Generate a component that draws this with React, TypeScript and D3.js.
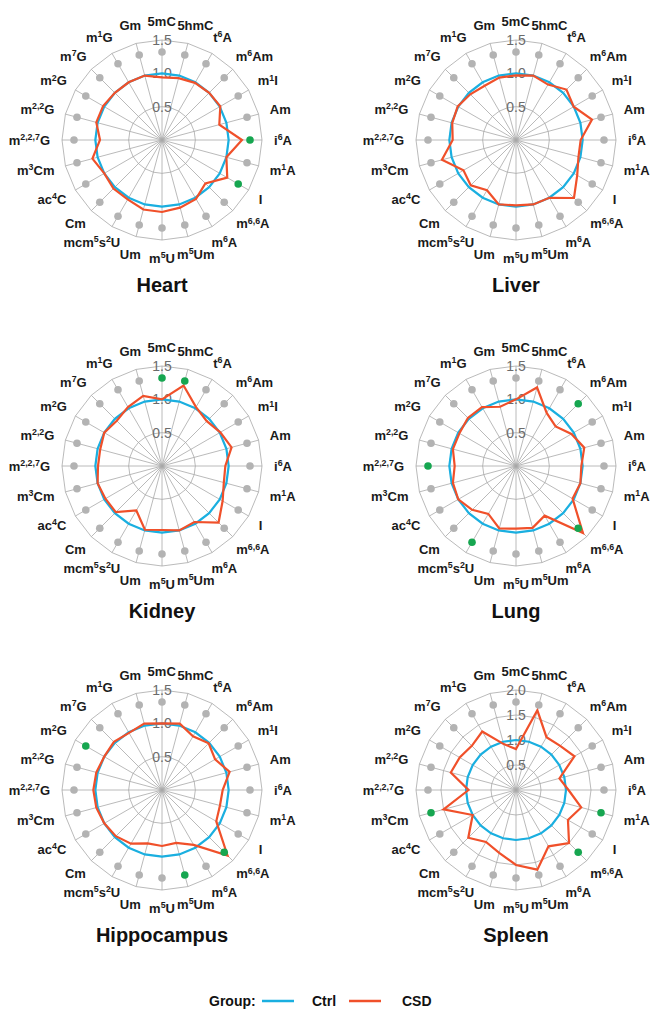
import React, { useEffect, useRef } from "react";
import * as d3 from "d3";

// modification labels, clockwise from top; "^" toggles superscript
const mods = ["5mC", "5hmC", "t^6^A", "m^6^Am", "m^1^I", "Am", "i^6^A", "m^1^A", "I", "m^6,6^A", "m^6^A", "m^5^Um",
  "m^5^U", "Um", "mcm^5^s^2^U", "Cm", "ac^4^C", "m^3^Cm", "m^2,2,7^G", "m^2,2^G", "m^2^G", "m^7^G", "m^1^G", "Gm"];

const tissues = ["Heart", "Liver", "Kidney", "Lung", "Hippocampus", "Spleen"];

const ctrl = [1, 1, 1, 1, 1, 1, 1, 1, 1, 1, 1, 1, 1, 1, 1, 1, 1, 1, 1, 1, 1, 1, 1, 1];

const heartCSD = [0.94, 0.96, 0.99, 1.0, 1.01, 0.89, 1.2, 1.0, 1.13, 0.92, 1.02, 1.05, 1.08, 1.08, 1.03, 1.03, 1.0, 1.08, 0.93, 1.02, 1.02, 1.0, 1.0, 1.0];
const liverCSD = [0.97, 1.0, 0.96, 1.07, 1.0, 1.18, 0.97, 0.97, 1.06, 1.23, 1.0, 1.0, 0.98, 1.0, 0.87, 0.96, 0.91, 1.15, 0.95, 0.99, 1.01, 0.97, 0.94, 0.97];
const kidneyCSD = [1.0, 1.25, 1.02, 0.95, 1.01, 1.08, 0.95, 0.96, 1.05, 1.2, 0.97, 1.0, 0.96, 0.99, 0.77, 0.98, 0.98, 1.0, 0.96, 0.96, 1.0, 0.96, 1.02, 1.09];
const lungCSD = [1.0, 1.22, 0.92, 0.84, 0.96, 1.06, 0.98, 1.0, 0.98, 1.42, 0.86, 0.96, 0.94, 0.97, 0.83, 0.93, 1.0, 0.98, 0.92, 0.98, 0.98, 1.02, 1.02, 0.92];
const hippoCSD = [1.0, 1.03, 0.93, 0.99, 0.92, 1.05, 0.91, 0.9, 0.94, 1.39, 0.95, 0.82, 0.84, 0.83, 0.93, 0.98, 1.0, 1.02, 1.03, 1.02, 1.0, 1.02, 0.99, 1.03];
const spleenCSD = [0.82, 1.65, 1.22, 1.25, 1.35, 0.9, 1.05, 1.35, 1.2, 1.5, 1.3, 1.65, 1.5, 1.3, 1.2, 1.35, 1.0, 1.5, 0.95, 1.35, 1.3, 1.25, 1.35, 0.95];

const heartSig = ["i^6^A", "I"];
const liverSig: string[] = [];
const kidneySig = ["5mC", "5hmC"];
const lungSig = ["m^6^Am", "m^2,2,7^G", "mcm^5^s^2^U", "m^6,6^A"];
const hippoSig = ["m^2^G", "m^6,6^A", "m^5^Um"];
const spleenSig = ["m^3^Cm", "m^1^A", "m^6,6^A"];

const ticks15 = [0.5, 1.0, 1.5];
const ticks20 = [0.5, 1.0, 1.5, 2.0];

const panels = [
  { name: tissues[0], csd: heartCSD, sig: heartSig, ticks: ticks15 },
  { name: tissues[1], csd: liverCSD, sig: liverSig, ticks: ticks15 },
  { name: tissues[2], csd: kidneyCSD, sig: kidneySig, ticks: ticks15 },
  { name: tissues[3], csd: lungCSD, sig: lungSig, ticks: ticks15 },
  { name: tissues[4], csd: hippoCSD, sig: hippoSig, ticks: ticks15 },
  { name: tissues[5], csd: spleenCSD, sig: spleenSig, ticks: ticks20 },
];

const W = 653, H = 1009;
const R = 100;
const BLUE = "#1AAFE0";
const RED = "#F0502A";
const GREEN = "#16A650";
const GREY = "#B3B3B3";
const GRID = "#A8A8A8";
const FONT = "'Liberation Sans', Arial, sans-serif";

function addLabel(sel: any, label: string, fs: number) {
  const parts = label.split("^");
  parts.forEach((p, i) => {
    if (!p) return;
    const sup = i % 2 === 1;
    const t = sel.append("tspan").text(p);
    if (sup) t.attr("font-size", fs * 0.68).attr("dy", -fs * 0.38);
    else if (i > 0) t.attr("dy", fs * 0.38);
  });
}

const App = () => {
  const ref = useRef<SVGSVGElement>(null);

  useEffect(() => {
    const svg = d3.select(ref.current);
    svg.selectAll("*").remove();

    const angle = d3.scaleLinear().domain([0, mods.length]).range([0, 2 * Math.PI]);
    const cols = [162, 516];
    const rows = [140, 466, 790];

    panels.forEach((p, k) => {
      const cx = cols[k % 2], cy = rows[Math.floor(k / 2)];
      const max = d3.max(p.ticks) as number;
      const r = d3.scaleLinear().domain([0, max]).range([0, R]);
      const g = svg.append("g").attr("transform", `translate(${cx},${cy})`);
      const idx = d3.range(mods.length);

      const ring = d3.lineRadial<number>()
        .angle(i => angle(i))
        .curve(d3.curveLinearClosed);

      // grid rings
      p.ticks.forEach(t => {
        g.append("path")
          .attr("d", ring.radius(() => r(t))(idx))
          .attr("fill", "none")
          .attr("stroke", GRID)
          .attr("stroke-width", 0.8);
      });

      // spokes
      g.selectAll(".spoke")
        .data(idx)
        .join("line")
        .attr("x1", 0).attr("y1", 0)
        .attr("x2", i => R * Math.sin(angle(i)))
        .attr("y2", i => -R * Math.cos(angle(i)))
        .attr("stroke", GRID)
        .attr("stroke-width", 0.8);

      // tick labels
      g.selectAll(".tick")
        .data(p.ticks)
        .join("text")
        .attr("x", 0)
        .attr("y", t => -r(t))
        .attr("dy", "0.35em")
        .attr("text-anchor", "middle")
        .attr("font-family", FONT)
        .attr("font-size", 14)
        .attr("fill", "#6b6b6b")
        .text(t => d3.format(".1f")(t));

      const series = d3.lineRadial<number>()
        .angle((_, i) => angle(i))
        .curve(d3.curveLinearClosed);

      g.append("path")
        .attr("d", series.radius(v => r(v))(ctrl))
        .attr("fill", "none")
        .attr("stroke", BLUE)
        .attr("stroke-width", 2.2);

      g.append("path")
        .attr("d", series.radius(v => r(v))(p.csd))
        .attr("fill", "none")
        .attr("stroke", RED)
        .attr("stroke-width", 2.2)
        .attr("stroke-linejoin", "miter");

      // significance dots
      g.selectAll(".dot")
        .data(idx)
        .join("circle")
        .attr("cx", i => 0.88 * R * Math.sin(angle(i)))
        .attr("cy", i => -0.88 * R * Math.cos(angle(i)))
        .attr("r", 3.8)
        .attr("fill", i => (p.sig.includes(mods[i]) ? GREEN : GREY));

      // axis labels
      const fs = 13;
      const rl = R + 12;
      idx.forEach(i => {
        const a = angle(i);
        const s = Math.sin(a), c = Math.cos(a);
        const ax = rl * s, ay = -rl * c;
        const txt = g.append("text")
          .attr("font-family", FONT)
          .attr("font-weight", "bold")
          .attr("font-size", fs)
          .attr("fill", "#1a1a1a");
        addLabel(txt, mods[i], fs);
        const w = (txt.node() as SVGTextElement).getBBox().width;
        const hj = 0.5 - s / 2;
        const h = fs;
        const centerY = ay - c * h / 2;
        txt.attr("x", ax - hj * w).attr("y", centerY + fs * 0.36);
      });

      // title
      g.append("text")
        .attr("x", 0)
        .attr("y", 152)
        .attr("text-anchor", "middle")
        .attr("font-family", FONT)
        .attr("font-weight", "bold")
        .attr("font-size", 20)
        .attr("fill", "#111")
        .text(p.name);
    });

    // legend
    const lg = svg.append("g").attr("font-family", FONT).attr("font-weight", "bold").attr("font-size", 14).attr("fill", "#111");
    const ly = 1001;
    lg.append("text").attr("x", 209).attr("y", ly + 5).text("Group:");
    lg.append("line").attr("x1", 262).attr("x2", 294).attr("y1", ly).attr("y2", ly).attr("stroke", BLUE).attr("stroke-width", 2.5);
    lg.append("text").attr("x", 312).attr("y", ly + 5).text("Ctrl");
    lg.append("line").attr("x1", 349).attr("x2", 381).attr("y1", ly).attr("y2", ly).attr("stroke", RED).attr("stroke-width", 2.5);
    lg.append("text").attr("x", 402).attr("y", ly + 5).text("CSD");
  }, []);

  return (
    <svg ref={ref} width={W} height={H}
      style={{ position: "absolute", left: 0, top: 0, background: "#fff" }} />
  );
};

export default App;
